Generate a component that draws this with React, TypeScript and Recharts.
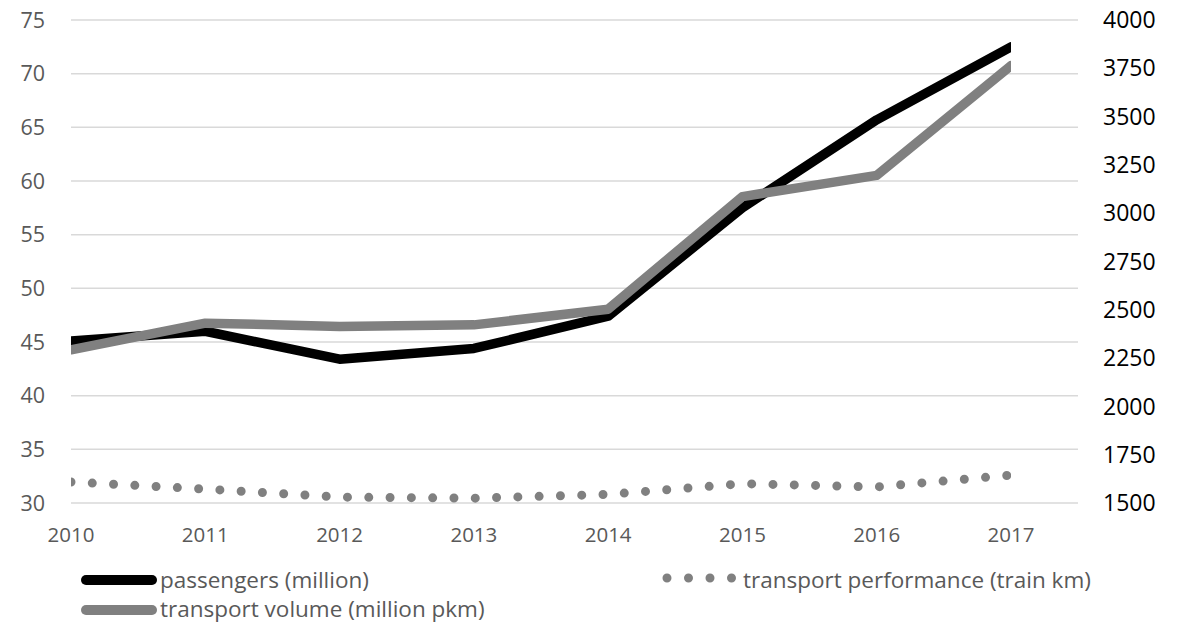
import React from 'react';
import { LineChart, Line, XAxis, YAxis, CartesianGrid, Legend } from 'recharts';

const years = ['2010', '2011', '2012', '2013', '2014', '2015', '2016', '2017'];
const passengers = [45.1, 46.0, 43.4, 44.4, 47.4, 57.5, 65.7, 72.5];
const transportPerformance = [31.96, 31.3, 30.55, 30.45, 30.8, 31.8, 31.5, 32.6];
const transportVolume = [2293, 2431, 2414, 2422, 2503, 3086, 3196, 3764];

const leftTicks = [30, 35, 40, 45, 50, 55, 60, 65, 70, 75];
const rightTicks = [1500, 1750, 2000, 2250, 2500, 2750, 3000, 3250, 3500, 3750, 4000];

const nameP = 'passengers (million)';
const nameT = 'transport performance (train km)';
const nameV = 'transport volume (million pkm)';

const data = years.map((year, i) => ({
  year,
  passengers: passengers[i],
  performance: transportPerformance[i],
  volume: transportVolume[i],
}));

const FONT = '"Open Sans", "Noto Sans", sans-serif';

const LegendContent = () => (
  <svg width={1182} height={62} style={{ display: 'block', overflow: 'visible' }}>
    <line x1={86} x2={152} y1={20} y2={20} stroke="#000000" strokeWidth={10} strokeLinecap="round" />
    <text x={160} y={28} fontFamily={FONT} fontSize={22.5} fill="#595959">{nameP}</text>
    <line x1={667} x2={732} y1={18} y2={18} stroke="#808080" strokeWidth={9} strokeLinecap="round" strokeDasharray="0 21.5" />
    <text x={743} y={28} fontFamily={FONT} fontSize={22.5} fill="#595959">{nameT}</text>
    <line x1={86} x2={152} y1={50} y2={50} stroke="#808080" strokeWidth={10} strokeLinecap="round" />
    <text x={160} y={57} fontFamily={FONT} fontSize={22.5} fill="#595959">{nameV}</text>
  </svg>
);

export default function App() {
  return (
    <div style={{ position: 'absolute', left: 0, top: 0, width: 1182, height: 622, background: '#ffffff' }}>
      <LineChart width={1182} height={622} data={data} margin={{ top: 20, right: 0, bottom: 79, left: 0 }}>
        <CartesianGrid yAxisId="left" vertical={false} stroke="#d9d9d9" strokeWidth={1.5} />
        <XAxis
          dataKey="year"
          allowDataOverflow
          padding={{ left: 0, right: 67 }}
          axisLine={false}
          tickLine={false}
          height={40}
          tickMargin={18}
          interval={0}
          tick={{ fontFamily: FONT, fontSize: 20.5, fill: '#595959' }}
        />
        <YAxis
          yAxisId="left"
          orientation="left"
          domain={[30, 75]}
          ticks={leftTicks}
          width={71}
          axisLine={false}
          tickLine={false}
          tickMargin={20}
          interval={0}
          tick={{ fontFamily: FONT, fontSize: 21.5, fill: '#595959' }}
        />
        <YAxis
          yAxisId="right"
          orientation="right"
          domain={[1500, 4000]}
          ticks={rightTicks}
          width={104}
          axisLine={false}
          tickLine={false}
          tickMargin={19}
          interval={0}
          tick={{ fontFamily: FONT, fontSize: 23, fill: '#000000' }}
        />
        <Legend
          layout="horizontal"
          verticalAlign="middle"
          align="center"
          wrapperStyle={{ left: 0, top: 560, width: 1182, height: 62 }}
          content={() => <LegendContent />}
        />
        <Line
          yAxisId="left"
          dataKey="passengers"
          name={nameP}
          type="linear"
          stroke="#000000"
          strokeWidth={9.5}
          strokeLinecap="round"
          strokeLinejoin="round"
          dot={false}
          activeDot={false}
          isAnimationActive={false}
        />
        <Line
          yAxisId="left"
          dataKey="performance"
          name={nameT}
          type="linear"
          stroke="#808080"
          strokeWidth={9}
          strokeLinecap="round"
          strokeLinejoin="round"
          strokeDasharray="0 21.3"
          dot={false}
          activeDot={false}
          isAnimationActive={false}
        />
        <Line
          yAxisId="right"
          dataKey="volume"
          name={nameV}
          type="linear"
          stroke="#808080"
          strokeWidth={9.5}
          strokeLinecap="round"
          strokeLinejoin="round"
          dot={false}
          activeDot={false}
          isAnimationActive={false}
        />
      </LineChart>
    </div>
  );
}
